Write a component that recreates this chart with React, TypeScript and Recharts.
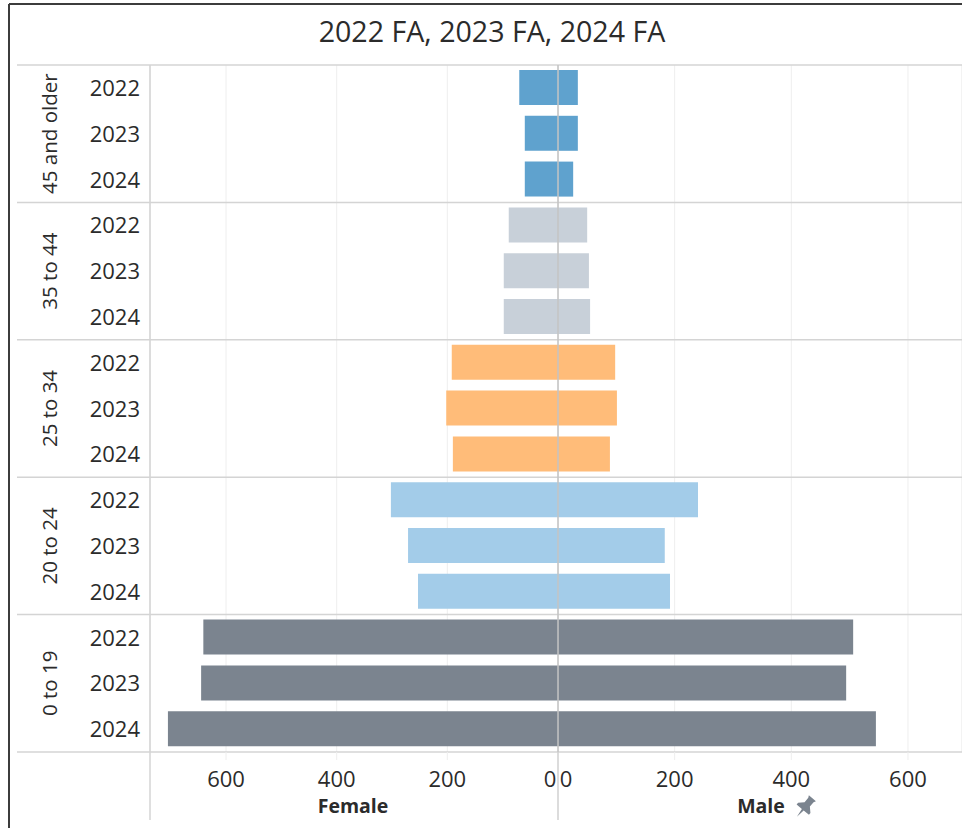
import { Bar, BarChart, CartesianGrid, Cell, ReferenceLine, XAxis, YAxis } from "recharts";

const ageGroups = ["45 and older", "35 to 44", "25 to 34", "20 to 24", "0 to 19"];
const years = ["2022", "2023", "2024"];
const groupColors = ["#5fa2ce", "#c8d0d9", "#ffbc79", "#a3cce9", "#7b848f"];

// three values per age group, 2022 to 2024
const femaleValues = [70, 60, 60, 89, 98, 98, 192, 202, 190, 302, 271, 253, 641, 645, 705];
const maleValues = [34, 34, 26, 50, 53, 55, 98, 101, 89, 240, 183, 192, 506, 494, 545];

const femaleTicks = [-600, -400, -200, 0];
const maleTicks = [0, 200, 400, 600];

// Tableau gave each side its own scale, so both axes keep zero at the same spot
const femaleDomain = [-737.4, 730.2];
const maleDomain = [-699.5, 692.6];

const rows = ageGroups.flatMap((group, g) =>
  years.map((year, y) => ({
    key: `${group}|${year}`,
    group,
    year,
    color: groupColors[g],
    female: -femaleValues[g * 3 + y],
    male: maleValues[g * 3 + y],
  })),
);

const FONT = "'Open Sans', sans-serif";
const TEXT = "#2b2b2b";
const LINE = "#d4d4d4";
const WIDTH = 962;
const HEIGHT = 828;
const PLOT_LEFT = 150;
const PLOT_TOP = 65;
const PLOT_BOTTOM = 752;
const ZERO_X = 558;
const GROUP_H = (PLOT_BOTTOM - PLOT_TOP) / ageGroups.length;

function YearTick({ y, index }: any) {
  const row = rows[index];
  return (
    <g fontFamily={FONT}>
      <text x={140} y={y + 8} textAnchor="end" fontSize={22} fill={TEXT}>
        {row.year}
      </text>
      {index % 3 === 1 && (
        <text
          transform={`translate(57 ${y}) rotate(-90)`}
          textAnchor="middle"
          fontSize={20.5}
          fill={TEXT}
        >
          {row.group}
        </text>
      )}
    </g>
  );
}

function ValueTick({ x, payload, zeroShift }: any) {
  const isZero = payload.value === 0;
  return (
    <g>
      {!isZero && <line x1={x} x2={x} y1={PLOT_BOTTOM} y2={PLOT_BOTTOM + 8} stroke="#eeeeee" />}
      <text
        x={isZero ? x + zeroShift : x}
        y={PLOT_BOTTOM + 35}
        textAnchor="middle"
        fontFamily={FONT}
        fontSize={22}
        fill={TEXT}
      >
        {Math.abs(payload.value)}
      </text>
    </g>
  );
}

export default function App() {
  return (
    <div style={{ position: "absolute", left: 0, top: 0, width: WIDTH, height: HEIGHT, background: "#fff", overflow: "hidden" }}>
      <BarChart
        width={WIDTH}
        height={HEIGHT}
        data={rows}
        layout="vertical"
        stackOffset="sign"
        barSize={35}
        margin={{ top: PLOT_TOP, right: 0, bottom: HEIGHT - PLOT_BOTTOM - 2, left: 0 }}
      >
        <line x1={9} x2={9} y1={4} y2={HEIGHT} stroke="#3c3c3c" strokeWidth={2} />
        <line x1={9} x2={WIDTH} y1={4} y2={4} stroke="#3c3c3c" strokeWidth={2} />
        <text x={492} y={42} textAnchor="middle" fontFamily={FONT} fontSize={28.6} fill={TEXT}>
          2022 FA, 2023 FA, 2024 FA
        </text>
        <CartesianGrid xAxisId="female" horizontal={false} stroke="#eeeeee" />
        <CartesianGrid xAxisId="male" horizontal={false} stroke="#eeeeee" />
        {[0, 1, 2, 3, 4, 5].map((i) => (
          <line
            key={i}
            x1={17}
            x2={WIDTH}
            y1={PLOT_TOP + i * GROUP_H}
            y2={PLOT_TOP + i * GROUP_H}
            stroke={LINE}
            strokeWidth={1.5}
          />
        ))}
        <XAxis
          xAxisId="female"
          type="number"
          domain={femaleDomain}
          ticks={femaleTicks}
          interval={0}
          height={1}
          tickSize={0}
          tickMargin={0}
          axisLine={false}
          tickLine={false}
          tick={<ValueTick zeroShift={-8} />}
        />
        <XAxis
          xAxisId="male"
          type="number"
          domain={maleDomain}
          ticks={maleTicks}
          interval={0}
          height={1}
          tickSize={0}
          tickMargin={0}
          axisLine={false}
          tickLine={false}
          tick={<ValueTick zeroShift={8} />}
        />
        <YAxis
          type="category"
          dataKey="key"
          width={PLOT_LEFT}
          interval={0}
          axisLine={false}
          tickLine={false}
          tick={<YearTick />}
        />
        <Bar dataKey="female" xAxisId="female" stackId="side" isAnimationActive={false}>
          {rows.map((r) => (
            <Cell key={r.key} fill={r.color} />
          ))}
        </Bar>
        <Bar dataKey="male" xAxisId="male" stackId="side" isAnimationActive={false}>
          {rows.map((r) => (
            <Cell key={r.key} fill={r.color} />
          ))}
        </Bar>
        <ReferenceLine xAxisId="male" x={0} stroke="#c4c4c4" strokeWidth={1.5} />
        <line x1={ZERO_X} x2={ZERO_X} y1={PLOT_BOTTOM} y2={820} stroke="#d0d0d0" strokeWidth={1.5} />
        <line x1={PLOT_LEFT} x2={PLOT_LEFT} y1={PLOT_TOP} y2={820} stroke={LINE} strokeWidth={1.5} />
        <text x={353} y={813} textAnchor="middle" fontFamily={FONT} fontSize={19.5} fontWeight={700} fill={TEXT}>
          Female
        </text>
        <text x={761} y={813} textAnchor="middle" fontFamily={FONT} fontSize={19.5} fontWeight={700} fill={TEXT}>
          Male
        </text>
        <path
          transform="translate(805 807) rotate(40) scale(1.15)"
          d="M-4 -10 L4 -10 L3 -8 L3 -3 L7 1 L7 3 L1 3 L0 11 L-1 3 L-7 3 L-7 1 L-3 -3 L-3 -8 Z"
          fill="#7b848f"
        />
      </BarChart>
    </div>
  );
}
